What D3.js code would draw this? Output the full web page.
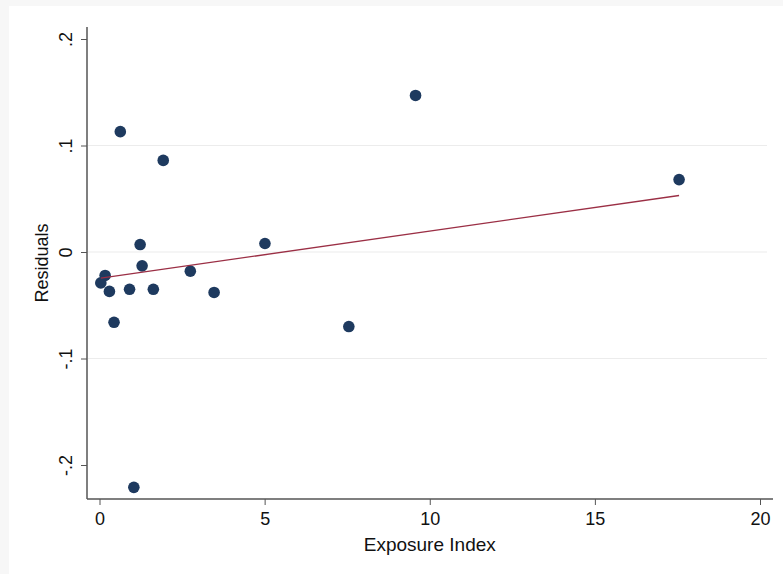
<!DOCTYPE html>
<html>
<head>
<meta charset="utf-8">
<script src="https://cdn.jsdelivr.net/npm/d3@7"></script>
<style>
  body { margin: 0; background: #fff; }
  svg { display: block; font-family: "Liberation Sans", Arial, Helvetica, sans-serif; }
</style>
</head>
<body>
<div id="chart"></div>
<script>
// residuals vs exposure index
var exposure = [0.63, 1.93, 1.23, 1.29, 0.17, 0.04, 0.30, 0.91, 1.63, 2.75, 3.47, 0.44, 5.01, 1.04, 9.57, 17.55, 7.55];
var residuals = [0.113, 0.086, 0.007, -0.013, -0.022, -0.029, -0.037, -0.035, -0.035, -0.018, -0.038, -0.066, 0.008, -0.221, 0.147, 0.068, -0.070];

// fitted line endpoints
var fitX = [0.04, 17.55];
var fitY = [-0.0245, 0.0531];

var xTicks = [0, 5, 10, 15, 20];
var yTicks = [-0.2, -0.1, 0, 0.1, 0.2];
var yTickLabels = ["-.2", "-.1", "0", ".1", ".2"];
var gridTicks = [-0.1, 0, 0.1];

var W = 783, H = 574;
var pLeft = 87, pRight = 773, pTop = 27, pBottom = 499;

var svg = d3.select("#chart").append("svg")
  .attr("width", W)
  .attr("height", H);

// faint frame like the screenshot edge
svg.append("rect").attr("x", 0).attr("y", 0).attr("width", W).attr("height", H).attr("fill", "#f7f7f7");
svg.append("rect").attr("x", 9).attr("y", 6).attr("width", W - 9).attr("height", H - 6).attr("fill", "#fff");

var x = d3.scaleLinear().domain([0, 20]).range([99.5, 760]);
var y = d3.scaleLinear().domain([-0.2, 0.2]).range([465, 39]);

// gridlines
svg.append("g").selectAll("line")
  .data(gridTicks)
  .enter().append("line")
  .attr("x1", pLeft + 1).attr("x2", 767)
  .attr("y1", function(d) { return y(d); })
  .attr("y2", function(d) { return y(d); })
  .attr("stroke", "#ececec")
  .attr("stroke-width", 1.2);

// x axis
var xAxis = svg.append("g")
  .attr("transform", "translate(0," + pBottom + ")")
  .call(d3.axisBottom(x).tickValues(xTicks).tickSize(6).tickPadding(7).tickFormat(d3.format("d")));
xAxis.select(".domain").remove();
xAxis.attr("font-size", 18).attr("font-family", null);
xAxis.selectAll("line").attr("stroke", "#555");
xAxis.selectAll("text").attr("fill", "#111");
svg.append("line")
  .attr("x1", pLeft).attr("x2", pRight)
  .attr("y1", pBottom).attr("y2", pBottom)
  .attr("stroke", "#555").attr("stroke-width", 1.5);

// y axis
var yAxis = svg.append("g")
  .attr("transform", "translate(" + pLeft + ",0)")
  .call(d3.axisLeft(y).tickValues(yTicks).tickSize(6).tickFormat(function(d, i) { return yTickLabels[i]; }));
yAxis.select(".domain").remove();
yAxis.attr("font-size", 18).attr("font-family", null);
yAxis.selectAll("line").attr("stroke", "#555");
yAxis.selectAll("text")
  .attr("fill", "#111")
  .attr("x", null).attr("dy", null)
  .attr("text-anchor", "middle")
  .attr("transform", "translate(-15,0) rotate(-90)");
svg.append("line")
  .attr("x1", pLeft).attr("x2", pLeft)
  .attr("y1", pTop).attr("y2", pBottom)
  .attr("stroke", "#555").attr("stroke-width", 1.5);

// axis titles
svg.append("text")
  .attr("x", x(10)).attr("y", 551)
  .attr("text-anchor", "middle")
  .attr("font-size", 19).attr("fill", "#111")
  .text("Exposure Index");
svg.append("text")
  .attr("transform", "translate(48," + ((pTop + pBottom) / 2) + ") rotate(-90)")
  .attr("text-anchor", "middle")
  .attr("font-size", 18).attr("fill", "#111")
  .text("Residuals");

// points
svg.append("g").selectAll("circle")
  .data(exposure)
  .enter().append("circle")
  .attr("cx", function(d) { return x(d); })
  .attr("cy", function(d, i) { return y(residuals[i]); })
  .attr("r", 5.8)
  .attr("fill", "#1e3a5f");

// fitted line
svg.append("path")
  .datum(fitX)
  .attr("d", d3.line()
    .x(function(d) { return x(d); })
    .y(function(d, i) { return y(fitY[i]); }))
  .attr("fill", "none")
  .attr("stroke", "#9b2f45")
  .attr("stroke-width", 1.4);
</script>
</body>
</html>
